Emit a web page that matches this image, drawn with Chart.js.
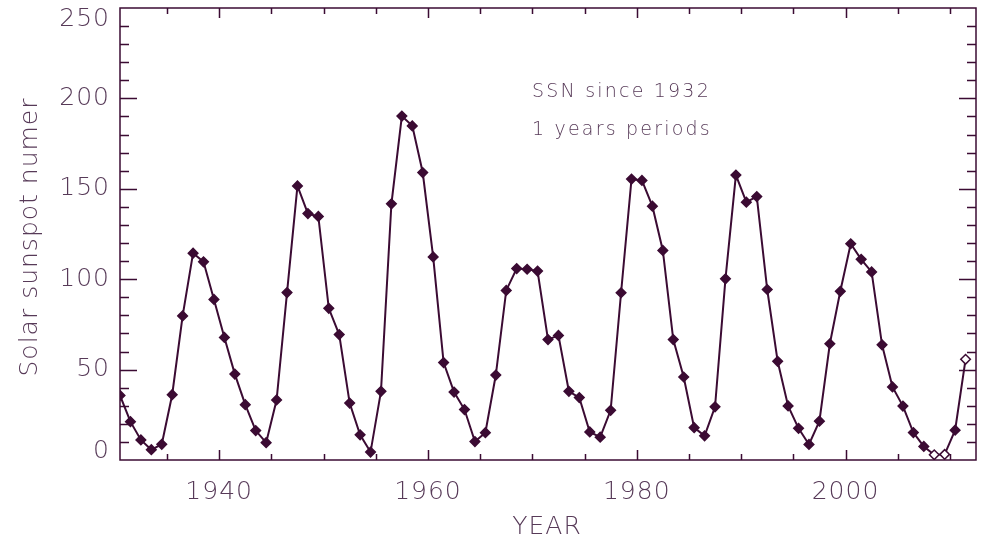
<!DOCTYPE html>
<html lang="en">
<head>
  <meta charset="UTF-8" />
  <title>Solar sunspot number</title>
  <script src="https://cdn.jsdelivr.net/npm/chart.js"></script>
  <style>
    body { margin: 0; background: #fff; }
    canvas { display: block; }
  </style>
</head>
<body>
  <canvas id="chart" width="983" height="539"></canvas>
  <script>
    // yearly mean sunspot number, plotted at mid-year
    const years = [1930,1931,1932,1933,1934,1935,1936,1937,1938,1939,
                   1940,1941,1942,1943,1944,1945,1946,1947,1948,1949,
                   1950,1951,1952,1953,1954,1955,1956,1957,1958,1959,
                   1960,1961,1962,1963,1964,1965,1966,1967,1968,1969,
                   1970,1971,1972,1973,1974,1975,1976,1977,1978,1979,
                   1980,1981,1982,1983,1984,1985,1986,1987,1988,1989,
                   1990,1991,1992,1993,1994,1995,1996,1997,1998,1999,
                   2000,2001,2002,2003,2004,2005,2006,2007,2008,2009,
                   2010,2011];
    const ssn = [35.7,21.2,11.1,5.7,8.7,36.1,79.7,114.4,109.6,88.8,
                 67.8,47.5,30.6,16.3,9.6,33.2,92.6,151.6,136.3,134.7,
                 83.9,69.4,31.5,13.9,4.4,38.0,141.7,190.2,184.8,159.0,
                 112.3,53.9,37.6,27.9,10.2,15.1,47.0,93.8,105.9,105.5,
                 104.5,66.6,68.9,38.0,34.5,15.5,12.6,27.5,92.5,155.4,
                 154.6,140.4,115.9,66.6,45.9,17.9,13.4,29.4,100.2,157.6,
                 142.6,145.7,94.3,54.6,29.9,17.5,8.6,21.5,64.3,93.3,
                 119.6,111.0,104.0,63.7,40.4,29.8,15.2,7.5,2.9,3.1,
                 16.5,55.7];
    const openYears = [2008, 2009, 2011];   // drawn as hollow diamonds
    const xLabels = [1940, 1960, 1980, 2000];
    const yLabels = [0, 50, 100, 150, 200, 250];
    const notes = ["SSN since 1932", "1 years periods"];

    const INK = "#3b0b33";
    const TEXT = "#573a58";
    const FONT = "200 25px 'DejaVu Sans', sans-serif";

    const frame = {
      id: "frame",
      afterDraw(chart) {
        const ctx = chart.ctx;
        const a = chart.chartArea;
        const xs = chart.scales.x, ys = chart.scales.y;
        ctx.save();
        ctx.strokeStyle = INK;
        ctx.lineWidth = 1.5;
        ctx.strokeRect(a.left, a.top, a.right - a.left, a.bottom - a.top);

        // x ticks every 5 years, long ones on labelled years
        ctx.beginPath();
        for (let yr = 1935; yr <= 2010; yr += 5) {
          const px = Math.round(xs.getPixelForValue(yr)) + 0.5;
          const len = yr % 20 === 0 ? 10 : 6;
          ctx.moveTo(px, a.bottom); ctx.lineTo(px, a.bottom - len);
          ctx.moveTo(px, a.top); ctx.lineTo(px, a.top + len);
        }
        // y ticks every 10, long every 50
        for (let v = 10; v < 250; v += 10) {
          const py = Math.round(ys.getPixelForValue(v)) + 0.5;
          const len = v % 50 === 0 ? 17 : 9;
          ctx.moveTo(a.left, py); ctx.lineTo(a.left + len, py);
          ctx.moveTo(a.right, py); ctx.lineTo(a.right - len, py);
        }
        ctx.stroke();

        ctx.fillStyle = TEXT;
        ctx.font = FONT;
        ctx.letterSpacing = "1px";
        ctx.textAlign = "center";
        ctx.textBaseline = "middle";
        xLabels.forEach(yr => ctx.fillText(String(yr), xs.getPixelForValue(yr), 492));
        ctx.fillText("YEAR", (a.left + a.right) / 2 - 1, 527);

        ctx.textAlign = "right";
        yLabels.forEach(v => {
          let py = ys.getPixelForValue(v);
          if (v === 0) py -= 9;
          if (v === 250) py += 11;
          ctx.fillText(String(v), 110, py);
        });

        ctx.save();
        ctx.translate(30, 237);
        ctx.rotate(-Math.PI / 2);
        ctx.textAlign = "center";
        ctx.fillText("Solar sunspot numer", 0, 0);
        ctx.restore();

        ctx.font = "200 19px 'DejaVu Sans', sans-serif";
        ctx.letterSpacing = "2.2px";
        ctx.textAlign = "left";
        ctx.fillText(notes[0], 532, 92);
        ctx.fillText(notes[1], 532, 130);
        ctx.restore();
      }
    };

    new Chart(document.getElementById("chart"), {
      type: "line",
      data: {
        datasets: [{
          data: years.map((yr, i) => ({ x: yr + 0.5, y: ssn[i] })),
          borderColor: INK,
          borderWidth: 2,
          pointStyle: "rectRot",
          pointRadius: 4.8,
          pointBorderColor: INK,
          pointBorderWidth: 1.5,
          pointBackgroundColor: ctx => openYears.includes(years[ctx.dataIndex]) ? "#fff" : INK,
          tension: 0
        }]
      },
      plugins: [frame],
      options: {
        responsive: false,
        animation: false,
        layout: { padding: { left: 120, right: 7, top: 8, bottom: 79 } },
        plugins: { legend: { display: false }, tooltip: { enabled: false } },
        scales: {
          x: { type: "linear", min: 1930.5, max: 2012.5, display: false },
          y: { min: 0, max: 250, display: false }
        }
      }
    });
  </script>
</body>
</html>
